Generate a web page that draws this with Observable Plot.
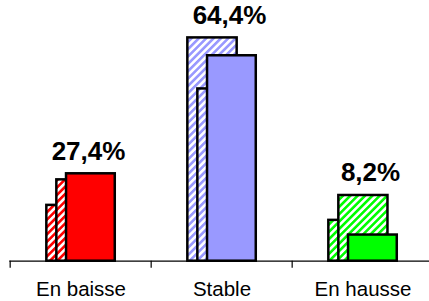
<!DOCTYPE html>
<html>
<head>
<meta charset="utf-8">
<script src="https://cdn.jsdelivr.net/npm/d3@7"></script>
<script src="https://cdn.jsdelivr.net/npm/@observablehq/plot@0.6"></script>
<style>
  html, body { margin: 0; padding: 0; background: #fff; }
  #chart svg { display: block; }
</style>
</head>
<body>
<div id="chart"></div>
<script>
const categories = ["En baisse", "Stable", "En hausse"];
const backValues = [17.5, 70, 12.8];     // hatched, rear
const middleValues = [25.5, 54, 20.6];   // hatched, middle
const frontValues = [27.4, 64.4, 8.2];   // solid, front
const valueLabels = ["27,4%", "64,4%", "8,2%"];
const solidColors = ["#ff0000", "#9999ff", "#00ff00"];
const hatchIds = ["hatch-red", "hatch-blue", "hatch-green"];

const rows = (vals, fills) => categories.map((c, i) => ({cat: c, v: vals[i], fill: fills[i]}));
const hatchFills = hatchIds.map(id => `url(#${id})`);
const backRows = rows(backValues, hatchFills);
const middleRows = rows(middleValues, hatchFills);
const frontRows = rows(frontValues, solidColors);
const labelRows = categories.map((c, i) => ({
  cat: c,
  y: Math.max(backValues[i], middleValues[i], frontValues[i]),
  text: valueLabels[i]
}));

const W = 429, H = 301;
const bandStart = 9.3, bandEnd = 434.3;
const bw = (bandEnd - bandStart) / categories.length;
const half = bw / 2;

function defs() {
  const d = d3.create("svg:defs");
  const s = 5.2;
  hatchIds.forEach((id, i) => {
    const p = d.append("pattern")
      .attr("id", id)
      .attr("patternUnits", "userSpaceOnUse")
      .attr("width", s).attr("height", s)
      .attr("patternTransform", "rotate(45)");
    p.append("rect").attr("width", s).attr("height", s).attr("fill", "#ffffff");
    p.append("rect").attr("width", s / 2).attr("height", s).attr("fill", solidColors[i]);
  });
  return d.node();
}

const barStyle = {stroke: "#000", strokeWidth: 2.5};

const chart = Plot.plot({
  width: W,
  height: H,
  marginTop: 5.5,
  marginBottom: 40.3,
  marginLeft: 9.3,
  marginRight: 0,
  style: {fontFamily: "'Liberation Sans', Arial, sans-serif", background: "#fff", overflow: "visible"},
  x: {domain: categories, range: [bandStart, bandEnd], padding: 0, axis: null},
  y: {domain: [0, 80], axis: null},
  color: {type: "identity"},
  marks: [
    defs,
    Plot.barY(backRows, {x: "cat", y: "v", fill: "fill", insetLeft: half - 34.5, insetRight: half - 15.5, ...barStyle}),
    Plot.barY(middleRows, {x: "cat", y: "v", fill: "fill", insetLeft: half - 24.5, insetRight: half - 25.3, ...barStyle}),
    Plot.barY(frontRows, {x: "cat", y: "v", fill: "fill", insetLeft: half - 14.8, insetRight: half - 34.6, ...barStyle}),
    Plot.ruleY([0], {stroke: "#000", strokeWidth: 1.2}),
    Plot.axisX({anchor: "bottom", label: null, tickSize: 7, tickFormat: () => "", dx: -half, stroke: "#000", strokeWidth: 1.2, strokeOpacity: 1}),
    Plot.text(categories, {x: d => d, frameAnchor: "bottom", dy: 34.6, lineAnchor: "bottom", fontSize: 20.5, fill: "#000"}),
    Plot.text(labelRows, {x: "cat", y: "y", text: "text", dx: 7.5, dy: -14, lineAnchor: "bottom", fontSize: 26, fontWeight: "bold", fill: "#000"})
  ]
});
document.getElementById("chart").appendChild(chart);
</script>
</body>
</html>
